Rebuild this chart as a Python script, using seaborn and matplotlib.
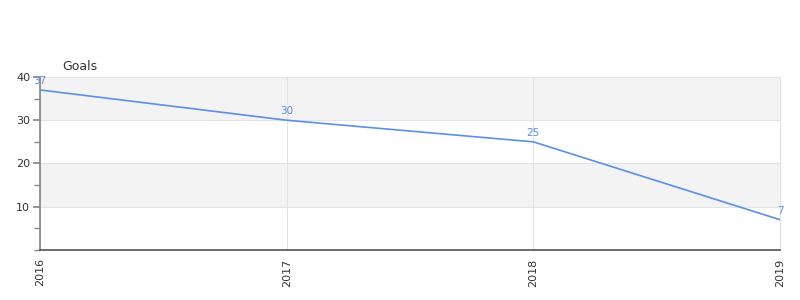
import matplotlib
matplotlib.use("Agg")
import matplotlib.pyplot as plt
import seaborn as sns
import pandas as pd
from matplotlib.ticker import MultipleLocator

years = ["2016", "2017", "2018", "2019"]
goals = [37, 30, 25, 7]
title = "Goals"

sns.set_theme(style="white")
plt.rcParams['font.family'] = ['DejaVu Sans']

df = pd.DataFrame({"x": range(len(years)), "Goals": goals})

fig = plt.figure(figsize=(8, 3), dpi=100)
ax = fig.add_axes([0.05, 0.1667, 0.925, 0.5767])

line_color = "#5b8fe8"
sns.lineplot(data=df, x="x", y="Goals", ax=ax, color=line_color, linewidth=1.2, zorder=3)

ax.set_xlim(0, len(years) - 1)
ax.set_ylim(0, 40)

# alternating bands
for lo, hi in [(10, 20), (30, 40)]:
    ax.axhspan(lo, hi, color="#f3f3f3", zorder=0, lw=0)
ax.set_yticks([10, 20, 30, 40])
ax.yaxis.set_minor_locator(MultipleLocator(5))
ax.grid(True, which="major", axis="both", color="#e3e3e3", linewidth=0.8, zorder=1)
ax.set_axisbelow(True)
ax.axvline(len(years) - 1, color="#e3e3e3", linewidth=0.8, zorder=1, clip_on=False)

ax.set_xticks(range(len(years)))
ax.set_xticklabels(years, rotation=90)

for s in ["top", "right"]:
    ax.spines[s].set_visible(False)
ax.spines["left"].set_color("#888888")
ax.spines["bottom"].set_color("#555555")
ax.spines["bottom"].set_linewidth(1.2)
ax.axhline(0, color="#cc2222", linewidth=0.8, zorder=4)

ax.tick_params(axis="y", which="major", length=5, color="#888888", labelsize=8, labelcolor="#333333", pad=2, left=True)
ax.tick_params(axis="y", which="minor", length=4, color="#888888", left=True)
ax.tick_params(axis="x", length=0, labelsize=8, labelcolor="#333333", pad=6)

ax.set_xlabel("")
ax.set_ylabel("")

for i, v in enumerate(goals):
    ax.annotate(str(v), (i, v), xytext=(0, 3), textcoords="offset points",
                ha="center", va="bottom", fontsize=7.5, color=line_color, zorder=5,
                annotation_clip=False)

fig.text(62 / 800, 1 - 66 / 300, title, fontsize=9, color="#333333", ha="left", va="center")

fig.savefig("out.png", dpi=100)
